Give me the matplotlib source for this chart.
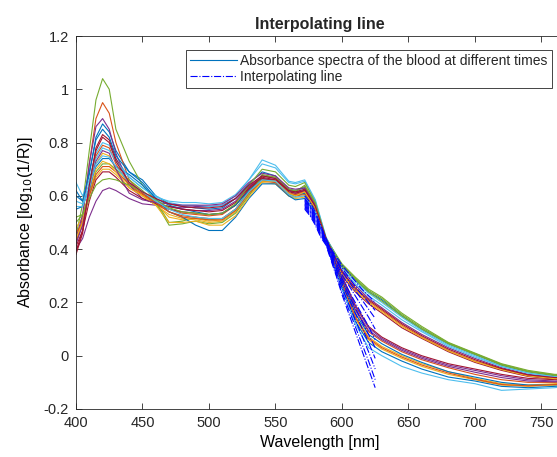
import numpy as np
from matplotlib import pyplot as plt

# MATLAB-like look
plt.rcParams.update({"font.family": ["Liberation Sans", "DejaVu Sans"],
                     "font.size": 10,
                     "text.color": "#262626",
                     "axes.edgecolor": "#262626",
                     "axes.linewidth": 0.6,
                     "xtick.color": "#262626",
                     "ytick.color": "#262626",
                     "xtick.direction": "in",
                     "ytick.direction": "in",
                     "xtick.major.size": 4,
                     "ytick.major.size": 4,
                     "xtick.major.width": 0.6,
                     "ytick.major.width": 0.6})

# %% data
wavelength = [400, 405, 410, 415, 420, 425, 430, 440, 450, 460, 470, 480,
              490, 500, 510, 520, 530, 540, 550, 560, 565, 572, 580, 588,
              600, 610, 620, 630, 645, 660, 680, 700, 720, 740, 760, 780]

spec_01 = [0.62, 0.58, 0.68, 0.82, 0.87, 0.84, 0.77, 0.69, 0.66, 0.60, 0.57, 0.56,
           0.555, 0.55, 0.555, 0.59, 0.645, 0.69, 0.675, 0.625, 0.62, 0.63, 0.565, 0.44,
           0.34, 0.285, 0.24, 0.21, 0.15, 0.10, 0.045, 0.005, -0.035, -0.06, -0.075, -0.075]
spec_02 = [0.42, 0.52, 0.72, 0.89, 0.95, 0.91, 0.80, 0.66, 0.61, 0.58, 0.55, 0.535,
           0.53, 0.525, 0.53, 0.565, 0.625, 0.665, 0.655, 0.61, 0.60, 0.61, 0.55, 0.435,
           0.29, 0.17, 0.09, 0.055, 0.015, -0.015, -0.045, -0.07, -0.09, -0.10, -0.10, -0.095]
spec_03 = [0.45, 0.50, 0.62, 0.72, 0.76, 0.75, 0.70, 0.64, 0.60, 0.57, 0.52, 0.51,
           0.515, 0.505, 0.51, 0.545, 0.61, 0.66, 0.65, 0.60, 0.595, 0.60, 0.545, 0.43,
           0.28, 0.15, 0.07, 0.035, 0.0, -0.03, -0.06, -0.085, -0.105, -0.11, -0.105, -0.10]
spec_04 = [0.40, 0.44, 0.52, 0.58, 0.62, 0.63, 0.62, 0.59, 0.57, 0.565, 0.56, 0.555,
           0.56, 0.56, 0.565, 0.59, 0.635, 0.665, 0.66, 0.62, 0.615, 0.62, 0.56, 0.44,
           0.32, 0.265, 0.215, 0.18, 0.125, 0.08, 0.03, -0.01, -0.045, -0.07, -0.08, -0.08]
spec_05 = [0.45, 0.57, 0.77, 0.96, 1.04, 1.00, 0.85, 0.73, 0.64, 0.58, 0.50, 0.505,
           0.52, 0.51, 0.515, 0.55, 0.62, 0.68, 0.67, 0.625, 0.62, 0.635, 0.57, 0.44,
           0.345, 0.295, 0.25, 0.22, 0.16, 0.11, 0.05, 0.01, -0.03, -0.055, -0.07, -0.07]
spec_06 = [0.65, 0.60, 0.66, 0.76, 0.80, 0.79, 0.74, 0.67, 0.63, 0.60, 0.575, 0.565,
           0.565, 0.56, 0.565, 0.60, 0.66, 0.735, 0.715, 0.655, 0.65, 0.66, 0.585, 0.445,
           0.335, 0.28, 0.235, 0.20, 0.145, 0.095, 0.04, 0.0, -0.04, -0.065, -0.08, -0.08]
spec_07 = [0.38, 0.46, 0.64, 0.78, 0.83, 0.81, 0.74, 0.65, 0.61, 0.575, 0.55, 0.54,
           0.535, 0.53, 0.535, 0.565, 0.625, 0.665, 0.655, 0.61, 0.605, 0.615, 0.55, 0.435,
           0.30, 0.19, 0.11, 0.07, 0.03, 0.0, -0.03, -0.05, -0.07, -0.085, -0.09, -0.09]
spec_08 = [0.55, 0.56, 0.63, 0.71, 0.74, 0.74, 0.71, 0.68, 0.64, 0.59, 0.565, 0.55,
           0.54, 0.53, 0.535, 0.565, 0.62, 0.66, 0.655, 0.61, 0.60, 0.61, 0.55, 0.435,
           0.285, 0.16, 0.08, 0.045, 0.005, -0.025, -0.06, -0.08, -0.10, -0.11, -0.11, -0.105]
spec_09 = [0.43, 0.49, 0.63, 0.75, 0.79, 0.78, 0.72, 0.64, 0.605, 0.57, 0.54, 0.525,
           0.52, 0.515, 0.515, 0.55, 0.615, 0.66, 0.655, 0.61, 0.605, 0.615, 0.555, 0.435,
           0.31, 0.25, 0.205, 0.17, 0.115, 0.07, 0.02, -0.02, -0.05, -0.075, -0.085, -0.085]
spec_10 = [0.48, 0.52, 0.60, 0.67, 0.70, 0.70, 0.68, 0.63, 0.60, 0.565, 0.53, 0.515,
           0.51, 0.50, 0.505, 0.54, 0.605, 0.65, 0.645, 0.60, 0.59, 0.595, 0.54, 0.43,
           0.27, 0.14, 0.06, 0.025, -0.01, -0.04, -0.07, -0.09, -0.11, -0.115, -0.11, -0.105]
spec_11 = [0.44, 0.53, 0.72, 0.86, 0.89, 0.85, 0.76, 0.64, 0.59, 0.57, 0.56, 0.55,
           0.545, 0.545, 0.55, 0.58, 0.635, 0.675, 0.665, 0.62, 0.61, 0.62, 0.56, 0.44,
           0.30, 0.185, 0.105, 0.065, 0.025, -0.005, -0.035, -0.055, -0.075, -0.09, -0.095, -0.09]
spec_12 = [0.50, 0.53, 0.61, 0.69, 0.72, 0.72, 0.70, 0.66, 0.62, 0.575, 0.49, 0.495,
           0.505, 0.495, 0.50, 0.535, 0.60, 0.675, 0.67, 0.625, 0.615, 0.64, 0.57, 0.44,
           0.34, 0.29, 0.245, 0.215, 0.155, 0.105, 0.048, 0.008, -0.032, -0.058, -0.072, -0.072]
spec_13 = [0.58, 0.57, 0.65, 0.74, 0.78, 0.77, 0.73, 0.67, 0.63, 0.595, 0.58, 0.575,
           0.575, 0.57, 0.575, 0.605, 0.66, 0.72, 0.705, 0.65, 0.645, 0.655, 0.58, 0.445,
           0.33, 0.27, 0.225, 0.19, 0.135, 0.09, 0.035, -0.005, -0.04, -0.065, -0.078, -0.078]
spec_14 = [0.41, 0.47, 0.58, 0.66, 0.69, 0.69, 0.67, 0.62, 0.59, 0.57, 0.56, 0.55,
           0.545, 0.54, 0.545, 0.575, 0.63, 0.67, 0.66, 0.615, 0.61, 0.62, 0.56, 0.44,
           0.30, 0.24, 0.195, 0.16, 0.105, 0.065, 0.015, -0.025, -0.055, -0.078, -0.088, -0.088]
spec_15 = [0.60, 0.58, 0.69, 0.81, 0.85, 0.82, 0.75, 0.69, 0.65, 0.59, 0.54, 0.52,
           0.49, 0.47, 0.47, 0.52, 0.59, 0.645, 0.645, 0.60, 0.585, 0.59, 0.535, 0.43,
           0.26, 0.13, 0.05, 0.015, -0.02, -0.05, -0.08, -0.095, -0.115, -0.12, -0.115, -0.11]
spec_16 = [0.46, 0.50, 0.60, 0.68, 0.71, 0.71, 0.69, 0.645, 0.61, 0.575, 0.54, 0.52,
           0.515, 0.51, 0.51, 0.545, 0.61, 0.655, 0.65, 0.605, 0.60, 0.605, 0.545, 0.43,
           0.275, 0.145, 0.065, 0.03, -0.005, -0.035, -0.065, -0.088, -0.108, -0.113, -0.108, -0.102]
spec_17 = [0.44, 0.50, 0.62, 0.70, 0.73, 0.72, 0.69, 0.63, 0.60, 0.565, 0.50, 0.50,
           0.505, 0.49, 0.49, 0.525, 0.595, 0.655, 0.655, 0.61, 0.60, 0.615, 0.555, 0.435,
           0.305, 0.245, 0.20, 0.165, 0.11, 0.068, 0.018, -0.022, -0.052, -0.076, -0.086, -0.086]
spec_18 = [0.42, 0.49, 0.62, 0.73, 0.77, 0.76, 0.70, 0.61, 0.585, 0.575, 0.57, 0.565,
           0.565, 0.565, 0.57, 0.60, 0.65, 0.685, 0.675, 0.63, 0.625, 0.63, 0.565, 0.44,
           0.295, 0.175, 0.095, 0.06, 0.02, -0.01, -0.04, -0.062, -0.082, -0.095, -0.098, -0.094]
spec_19 = [0.52, 0.53, 0.59, 0.64, 0.66, 0.665, 0.66, 0.64, 0.615, 0.585, 0.555, 0.54,
           0.535, 0.53, 0.535, 0.57, 0.64, 0.70, 0.69, 0.64, 0.635, 0.65, 0.575, 0.44,
           0.335, 0.285, 0.24, 0.205, 0.15, 0.10, 0.045, 0.005, -0.035, -0.06, -0.074, -0.074]
spec_20 = [0.56, 0.56, 0.63, 0.72, 0.75, 0.745, 0.71, 0.65, 0.615, 0.58, 0.55, 0.53,
           0.52, 0.515, 0.515, 0.55, 0.615, 0.66, 0.655, 0.605, 0.595, 0.60, 0.54, 0.43,
           0.25, 0.12, 0.03, 0.0, -0.04, -0.065, -0.09, -0.105, -0.13, -0.125, -0.12, -0.11]
spec_21 = [0.39, 0.47, 0.64, 0.77, 0.82, 0.80, 0.73, 0.65, 0.615, 0.59, 0.57, 0.56,
           0.555, 0.555, 0.56, 0.59, 0.64, 0.675, 0.665, 0.62, 0.615, 0.625, 0.56, 0.44,
           0.315, 0.255, 0.21, 0.175, 0.12, 0.075, 0.025, -0.015, -0.048, -0.072, -0.082, -0.082]

spectra = [spec_01, spec_02, spec_03, spec_04, spec_05, spec_06, spec_07,
           spec_08, spec_09, spec_10, spec_11, spec_12, spec_13, spec_14,
           spec_15, spec_16, spec_17, spec_18, spec_19, spec_20, spec_21]

# interpolating lines (blue dash-dot)
wl_fit = [572, 576, 580, 584, 588, 592, 596, 600, 605, 610, 615, 620, 625]
fit_01 = [0.60, 0.575, 0.54, 0.49, 0.44, 0.40, 0.37, 0.34, 0.31, 0.28, 0.25, 0.225, 0.20]
fit_02 = [0.59, 0.565, 0.53, 0.485, 0.435, 0.395, 0.36, 0.33, 0.295, 0.26, 0.23, 0.20, 0.17]
fit_03 = [0.585, 0.56, 0.525, 0.48, 0.435, 0.39, 0.355, 0.32, 0.28, 0.245, 0.21, 0.175, 0.14]
fit_04 = [0.58, 0.555, 0.52, 0.475, 0.43, 0.385, 0.345, 0.305, 0.265, 0.225, 0.185, 0.145, 0.10]
fit_05 = [0.575, 0.55, 0.515, 0.47, 0.43, 0.38, 0.335, 0.29, 0.245, 0.20, 0.155, 0.11, 0.06]
fit_06 = [0.57, 0.545, 0.51, 0.465, 0.425, 0.375, 0.325, 0.28, 0.23, 0.18, 0.13, 0.08, 0.03]
fit_07 = [0.565, 0.54, 0.505, 0.46, 0.425, 0.37, 0.32, 0.27, 0.215, 0.16, 0.105, 0.05, -0.01]
fit_08 = [0.56, 0.535, 0.50, 0.455, 0.42, 0.365, 0.31, 0.255, 0.195, 0.135, 0.075, 0.015, -0.05]
fit_09 = [0.555, 0.53, 0.495, 0.45, 0.42, 0.36, 0.30, 0.24, 0.175, 0.11, 0.045, -0.02, -0.09]
fit_10 = [0.55, 0.525, 0.49, 0.445, 0.415, 0.355, 0.295, 0.23, 0.16, 0.09, 0.02, -0.05, -0.12]
fits = [fit_01, fit_02, fit_03, fit_04, fit_05, fit_06, fit_07, fit_08, fit_09, fit_10]

# matlab default color order
colors = ['#0072BD', '#D95319', '#EDB120', '#7E2F8E', '#77AC30', '#4DBEEE', '#A2142F']

# %% plot
fig = plt.figure(figsize=(5.57, 4.57), dpi=100)
# right edge of the box sits just outside the picture (cropped figure)
ax = fig.add_axes([76/557, 48/457, 488/557, 373/457])

spec_lines = []
for i, s in enumerate(spectra):
    ln, = ax.plot(wavelength, s, color=colors[i % 7], lw=0.8)
    spec_lines.append(ln)

fit_lines = []
for f in fits:
    ln, = ax.plot(wl_fit, f, color='b', ls='-.', lw=0.8)
    fit_lines.append(ln)

ax.set_xlim(400, 767)
ax.set_ylim(-0.2, 1.2)
ax.set_xticks([400, 450, 500, 550, 600, 650, 700, 750])
ax.set_yticks([-0.2, 0, 0.2, 0.4, 0.6, 0.8, 1.0, 1.2])
ax.set_yticklabels(['-0.2', '0', '0.2', '0.4', '0.6', '0.8', '1', '1.2'])
ax.tick_params(top=True, right=True, labelsize=10.5)
ax.tick_params(axis='x', pad=5)
ax.tick_params(axis='y', pad=5)

ax.set_xlabel('Wavelength [nm]', fontsize=11.5, labelpad=4)
ax.set_ylabel(r'Absorbance [log$_{10}$(1/R)]', fontsize=11.5, labelpad=6)
ax.set_title('Interpolating line', fontsize=11.5, fontweight='bold', pad=5)

leg = ax.legend([spec_lines[0], fit_lines[0]],
                ['Absorbance spectra of the blood at different times', 'Interpolating line'],
                loc='upper left', bbox_to_anchor=(0.225, 0.9625), fontsize=10,
                handlelength=3.4, handletextpad=0.2, borderpad=0.3, labelspacing=0.15,
                fancybox=False, framealpha=1, edgecolor='#262626', borderaxespad=0)
leg.get_frame().set_linewidth(0.6)

fig.savefig('out.png', dpi=100)
